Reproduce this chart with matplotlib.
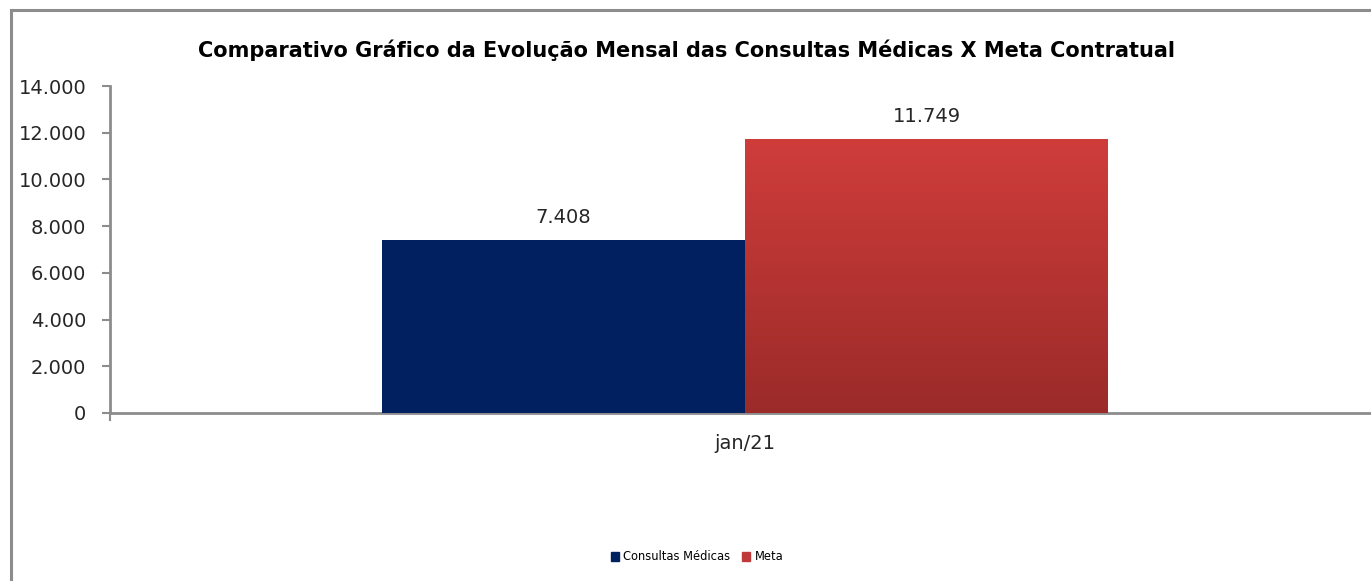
import matplotlib
matplotlib.use("Agg")
import matplotlib.pyplot as plt
import numpy as np
from matplotlib.patches import Rectangle
from matplotlib.colors import LinearSegmentedColormap

plt.rcParams['font.family'] = ['DejaVu Sans']

categories = ["jan/21"]
series_names = ["Consultas Médicas", "Meta"]
consultas = [7408]
meta = [11749]
yticks = [0, 2000, 4000, 6000, 8000, 10000, 12000, 14000]
ytick_labels = ["0", "2.000", "4.000", "6.000", "8.000", "10.000", "12.000", "14.000"]
title = "Comparativo Gráfico da Evolução Mensal das Consultas Médicas X Meta Contratual"

W, H = 1371, 581
fig = plt.figure(figsize=(W/100, H/100), dpi=100)

# outer chart border
fig.patches.append(Rectangle((10.5/W, -0.1), 1.2, 1 - 10/H + 0.1, transform=fig.transFigure,
                             fill=False, edgecolor='#8c8c8c', linewidth=2.2, zorder=0))

ax = fig.add_axes([110/W, 1 - 413/H, 1270/W, (413 - 86)/H])
ax.set_facecolor('none')
ax.set_xlim(-0.5, 0.5)
ax.set_ylim(0, 14000)

bw = 363/1270
x = np.arange(len(categories))
navy = '#002060'
b1 = ax.bar(x - bw/2, consultas, bw, color=navy, label=series_names[0], zorder=3)
b2 = ax.bar(x + bw/2, meta, bw, color='#c8393a', label=series_names[1], zorder=3)

# gradient for Meta bars
cmap = LinearSegmentedColormap.from_list('red', ['#9b2b29', '#cf3d3b'])
grad = np.linspace(0, 1, 256).reshape(-1, 1)
for p in b2.patches:
    x0, w, h = p.get_x(), p.get_width(), p.get_height()
    im = ax.imshow(grad, extent=[x0, x0 + w, 0, h], origin='lower', cmap=cmap,
                   aspect='auto', zorder=3.1)
    im.set_clip_path(p)
ax.set_xlim(-0.5, 0.5)
ax.set_ylim(0, 14000)

for bars, vals in ((b1, consultas), (b2, meta)):
    for p, v in zip(bars.patches, vals):
        ax.annotate(f"{v:,}".replace(",", "."), (p.get_x() + p.get_width()/2, v),
                    xytext=(0, 9), textcoords='offset points', ha='center', va='bottom',
                    fontsize=14, color='#262626')

for s in ['top', 'right']:
    ax.spines[s].set_visible(False)
for s in ['left', 'bottom']:
    ax.spines[s].set_color('#8c8c8c')
    ax.spines[s].set_linewidth(2)

ax.set_yticks(yticks)
ax.set_yticklabels(ytick_labels, fontsize=14, color='#262626')
ax.tick_params(axis='y', length=6, width=1.5, color='#8c8c8c', pad=11)
ax.set_xticks(x)
ax.set_xticklabels(categories, fontsize=14, color='#262626')
ax.tick_params(axis='x', length=0, pad=15)
ax.set_xticks([-0.5], minor=True)
ax.tick_params(axis='x', which='minor', length=6, width=1.5, color='#8c8c8c')

fig.text(686/W, 1 - 50/H, title, ha='center', va='center', fontsize=15,
         fontweight='bold', color='black')

h1 = Rectangle((0, 0), 1, 1, color=navy)
h2 = Rectangle((0, 0), 1, 1, color='#c0393a')
fig.legend([h1, h2], series_names, loc='center', bbox_to_anchor=(697/W, 1 - 557/H),
           ncol=2, frameon=False, fontsize=8.3, handlelength=0.7, handleheight=0.7,
           handletextpad=0.4, columnspacing=1.0)

fig.savefig('out.png', dpi=100)
